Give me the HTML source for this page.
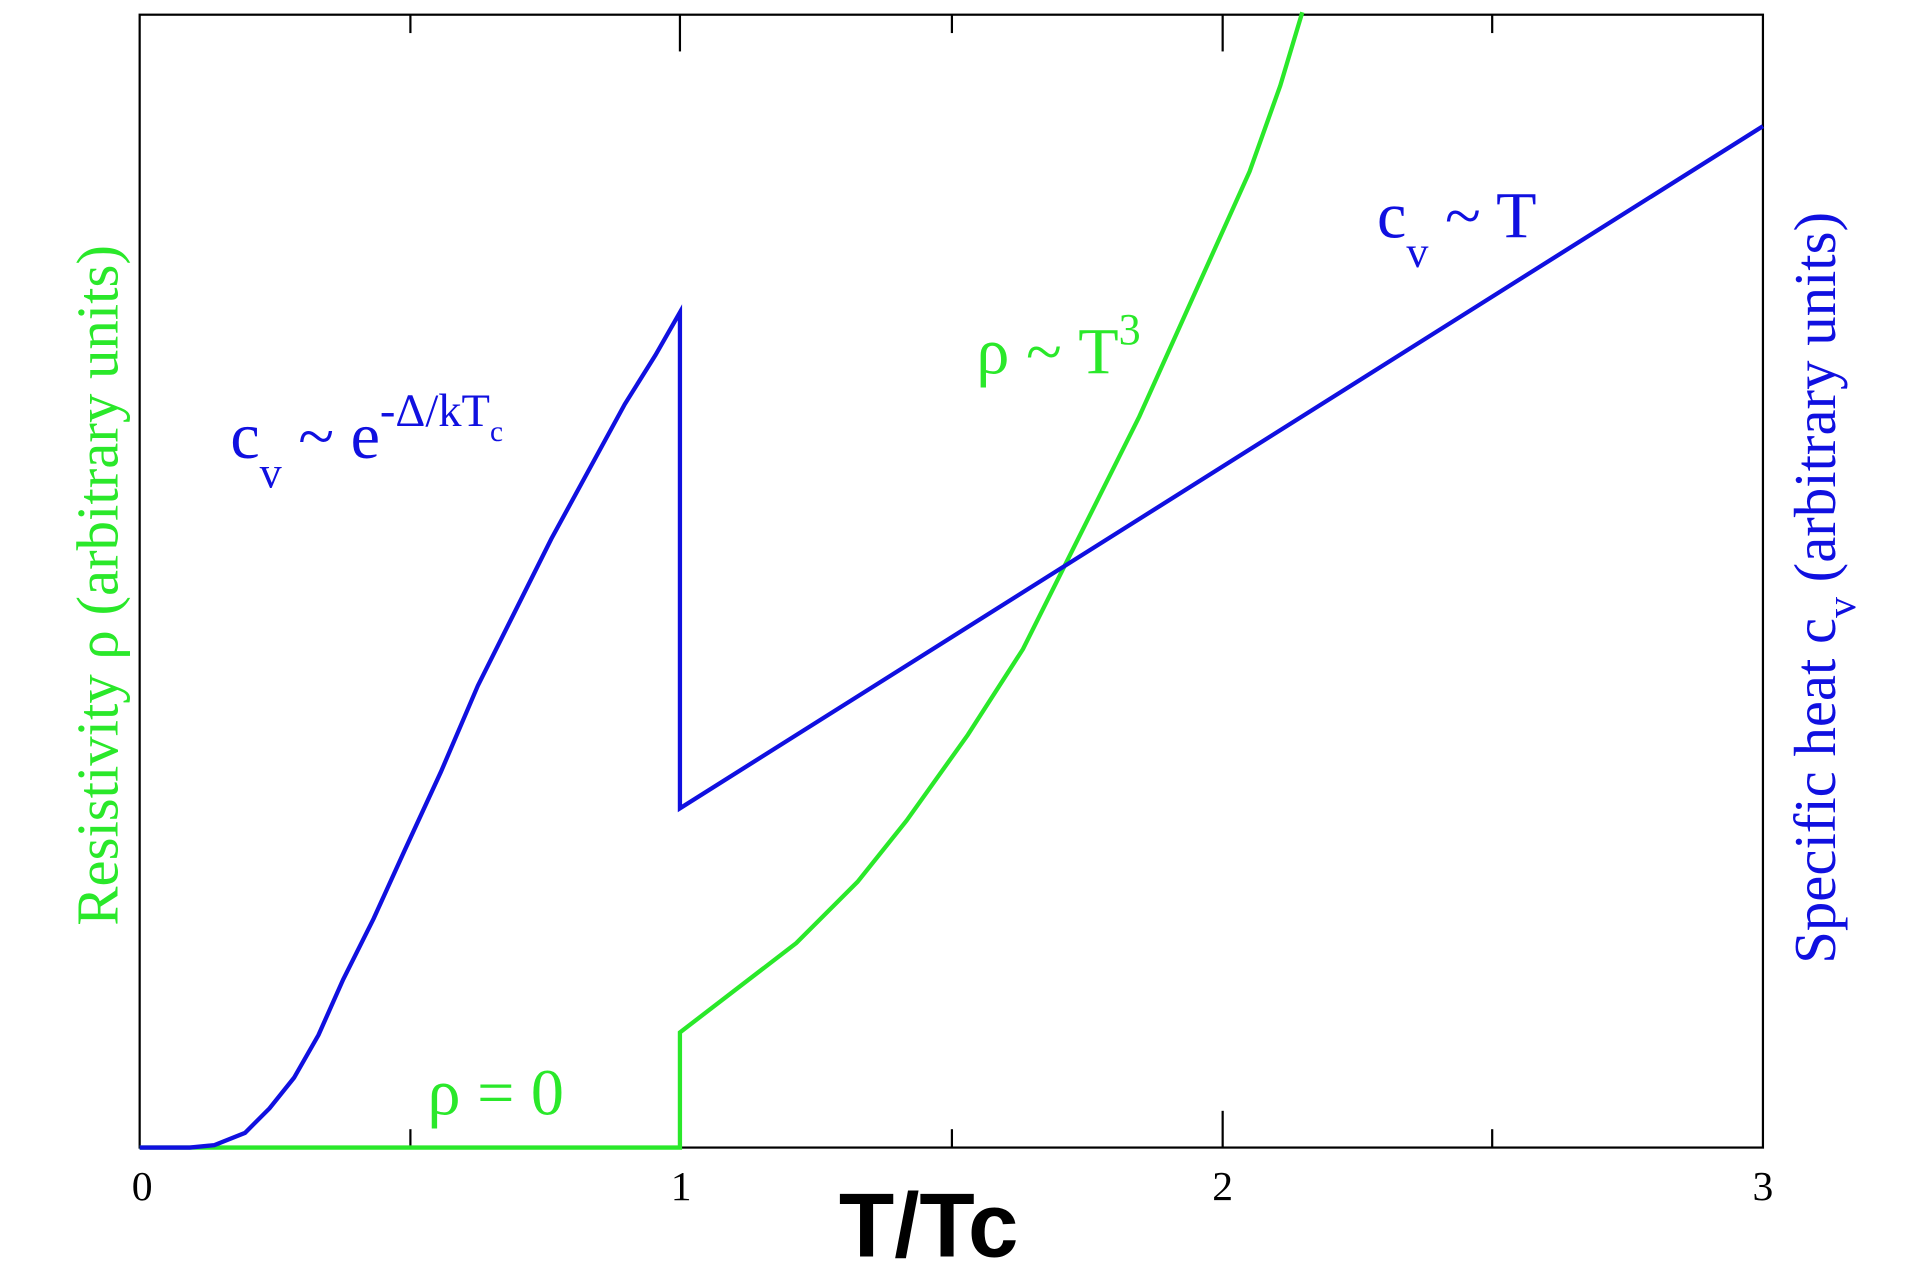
<!DOCTYPE html>
<html><head><meta charset="utf-8"><style>html,body{margin:0;padding:0;background:#fff;}svg{display:block}</style></head><body>
<svg width="1920" height="1280" viewBox="0 0 1552 1035" preserveAspectRatio="none" font-family="Liberation Serif, serif">
<rect x="0" y="0" width="1552" height="1035" fill="#fff"/>
<g transform="scale(0.9903)">
<g stroke="#000" stroke-width="1.8" fill="none">
<rect x="114" y="12" width="1325" height="925"/>
<line x1="335" y1="937" x2="335" y2="922"/><line x1="555" y1="937" x2="555" y2="907"/><line x1="777" y1="937" x2="777" y2="922"/><line x1="998" y1="937" x2="998" y2="907"/><line x1="1218" y1="937" x2="1218" y2="922"/>
<line x1="335" y1="12" x2="335" y2="27"/><line x1="555" y1="12" x2="555" y2="42"/><line x1="777" y1="12" x2="777" y2="27"/><line x1="998" y1="12" x2="998" y2="42"/><line x1="1218" y1="12" x2="1218" y2="27"/>
</g>
<polyline fill="none" stroke="#2ae82a" stroke-width="3.5" points="114,937 555,937 555,843 650,770 700,720 740,670 790,600 835,530 875,450 930,340 975,240 1020,140 1045,70 1063,10"/>
<polyline fill="none" stroke="#1010e0" stroke-width="3.5" points="114,937 155,937 175,935 200,925 220,905 240,880 260,845 280,800 305,750 330,695 360,630 390,560 420,500 450,440 480,385 510,330 535,290 555,255 555,660 1439,103"/>
<g font-size="34" fill="#000" text-anchor="middle"><text x="116" y="980">0</text><text x="556" y="980">1</text><text x="998" y="980">2</text><text x="1439" y="980">3</text></g>
<text x="758" y="1026" font-family="Liberation Sans, sans-serif" font-weight="bold" font-size="74" text-anchor="middle">T/Tc</text>
<g fill="#1010e0" font-size="54">
<text x="188" y="374">c<tspan font-size="36" dy="24">v</tspan><tspan dy="-24"> ~ e</tspan><tspan font-size="38" dy="-26">-Δ/kT</tspan><tspan font-size="24" dy="12">c</tspan></text>
<text x="1124" y="194">c<tspan font-size="36" dy="24">v</tspan><tspan dy="-24"> ~ T</tspan></text>
</g>
<g fill="#2ae82a" font-size="54">
<text x="797" y="305">ρ ~ T<tspan font-size="36" dy="-24">3</tspan></text>
<text x="349" y="910">ρ = 0</text>
</g>
<text transform="translate(96,478) rotate(-90)" fill="#2ae82a" font-size="48" text-anchor="middle">Resistivity ρ (arbitrary units)</text>
<text transform="translate(1498,480) rotate(-90)" fill="#1010e0" font-size="48" text-anchor="middle">Specific heat c<tspan font-size="34" dy="16">v</tspan><tspan dy="-16"> (arbitrary units)</tspan></text>
</g>
</svg>
</body></html>
